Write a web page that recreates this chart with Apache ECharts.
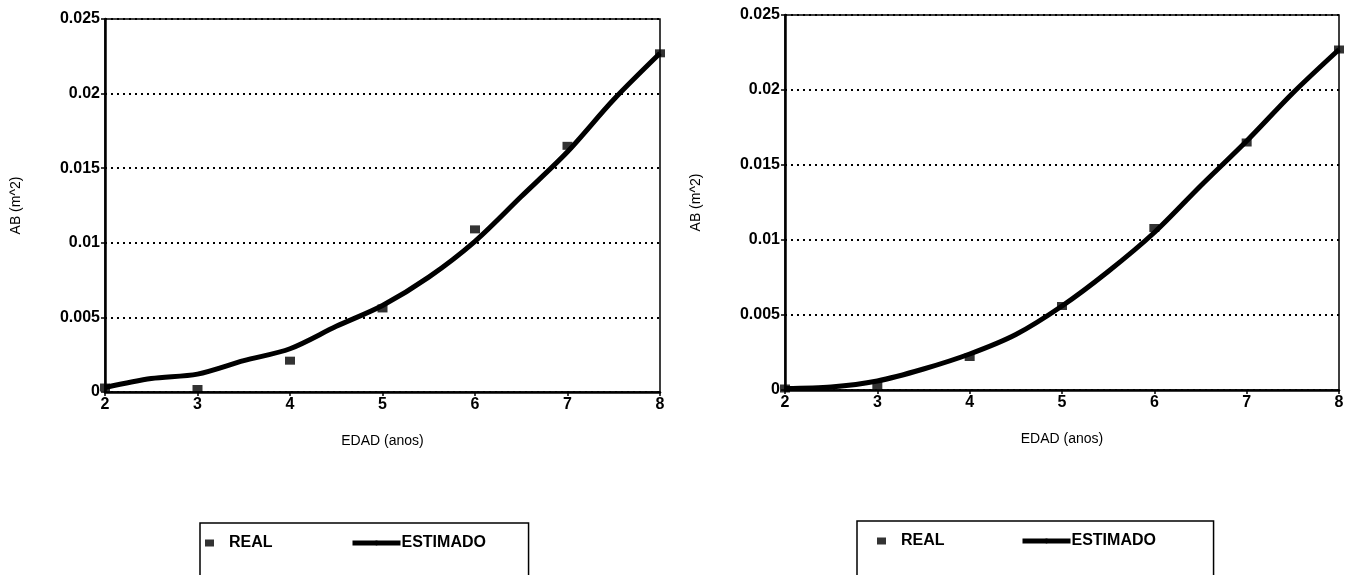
<!DOCTYPE html>
<html><head><meta charset="utf-8">
<script src="https://cdn.jsdelivr.net/npm/echarts@6/dist/echarts.min.js"></script>
<style>html,body{margin:0;padding:0;background:#fff}#c{width:1350px;height:575px}</style>
</head><body><div id="c"></div>
<script>
// ---- data ----
const ageReal = [2, 3, 4, 5, 6, 7, 8];
const realLeft = [0.0003, 0.0002, 0.0021, 0.0056, 0.0109, 0.0165, 0.0227];
const realRight = [0.0001, 0.0003, 0.0022, 0.0056, 0.0108, 0.0165, 0.0227];
const ageEst = [2, 2.5, 3, 3.5, 4, 4.5, 5, 5.5, 6, 6.5, 7, 7.5, 8];
const estLeft = [0.0003, 0.0009, 0.0012, 0.0021, 0.0029, 0.0044, 0.0058, 0.0077, 0.0101, 0.0131, 0.0161, 0.0196, 0.0227];
const estRight = [0.0001, 0.0002, 0.0006, 0.0014, 0.0024, 0.0037, 0.0056, 0.0079, 0.0105, 0.0136, 0.0166, 0.0198, 0.0227];
const yTicks = [0, 0.005, 0.01, 0.015, 0.02, 0.025];
const xTitle = 'EDAD (anos)';
const yTitle = 'AB (m^2)';
const seriesNames = ['REAL', 'ESTIMADO'];

const pair = (xs, ys) => xs.map((x, i) => [x, ys[i]]);
const FONT = 'Liberation Sans, Arial, sans-serif';

function xAx(gi) {
  return {
    type: 'value', gridIndex: gi, min: 2, max: 8, interval: 1,
    name: xTitle, nameLocation: 'middle', nameGap: 42,
    nameTextStyle: {fontFamily: FONT, fontSize: 14, color: '#000'},
    axisLine: {lineStyle: {color: '#000', width: 2.5}},
    axisTick: {show: true, length: 4, lineStyle: {color: '#000', width: 1.5}},
    axisLabel: {fontFamily: FONT, fontSize: 16, fontWeight: 'bold', color: '#000', margin: 5},
    splitLine: {show: false}
  };
}
function yAx(gi) {
  return {
    type: 'value', gridIndex: gi, min: 0, max: 0.025, interval: 0.005,
    name: yTitle, nameLocation: 'middle', nameGap: 82,
    nameTextStyle: {fontFamily: FONT, fontSize: 14, color: '#000'},
    axisLine: {show: true, lineStyle: {color: '#000', width: 2.5}},
    axisTick: {show: true, length: 4, lineStyle: {color: '#000', width: 1.5}},
    axisLabel: {fontFamily: FONT, fontSize: 16, fontWeight: 'bold', color: '#000', margin: 5,
      formatter: v => { const t = yTicks.find(k => Math.abs(k - v) < 1e-9); return t === undefined ? '' : String(t); }},
    splitLine: {show: true, lineStyle: {color: '#000', width: 2, type: [2, 4]}}
  };
}
function legends(left, top, padL, boxR, lineLeft) {
  return [
    {data: [{name: 'REAL', icon: 'rect'}], left: left, top: top, orient: 'horizontal',
     itemWidth: 9, itemHeight: 7, itemGap: 5,
     padding: [12, boxR, 30, padL], borderColor: '#000', borderWidth: 1.5,
     textStyle: {fontFamily: FONT, fontSize: 16, fontWeight: 'bold', color: '#000', padding: [0, 0, 0, 10]},
     selectedMode: false},
    {data: [{name: 'ESTIMADO'}], left: lineLeft, top: top, orient: 'horizontal',
     itemWidth: 48, itemHeight: 6, padding: [12, 5, 5, 5],
     lineStyle: {width: 5, color: '#000'},
     textStyle: {fontFamily: FONT, fontSize: 16, fontWeight: 'bold', color: '#000', padding: [0, 0, 0, -4]},
     selectedMode: false}
  ];
}

const chart = echarts.init(document.getElementById('c'), null, {renderer: 'canvas'});
chart.setOption({
  animation: false,
  backgroundColor: '#fff',
  grid: [
    {left: 105, right: 690, top: 19, bottom: 183, show: true, borderColor: '#000', borderWidth: 1.5, backgroundColor: 'transparent'},
    {left: 785, right: 11, top: 15, bottom: 185, show: true, borderColor: '#000', borderWidth: 1.5, backgroundColor: 'transparent'}
  ],
  xAxis: [xAx(0), xAx(1)],
  yAxis: [yAx(0), yAx(1)],
  legend: [...legends(200, 523, 5, 256, 345), ...legends(857, 521, 20, 269, 1015)],
  series: [
    {name: seriesNames[1], type: 'line', xAxisIndex: 0, yAxisIndex: 0, data: pair(ageEst, estLeft),
     smooth: 0.3,
     showSymbol: false, symbol: 'none', lineStyle: {color: '#000', width: 5}, itemStyle: {color: '#000'}, z: 3},
    {name: seriesNames[0], type: 'scatter', xAxisIndex: 0, yAxisIndex: 0, data: pair(ageReal, realLeft),
     symbol: 'rect', symbolSize: [10, 8], itemStyle: {color: '#000'}, z: 4},
    {name: seriesNames[1], type: 'line', xAxisIndex: 1, yAxisIndex: 1, data: pair(ageEst, estRight),
     smooth: 0.3,
     showSymbol: false, symbol: 'none', lineStyle: {color: '#000', width: 5}, itemStyle: {color: '#000'}, z: 3},
    {name: seriesNames[0], type: 'scatter', xAxisIndex: 1, yAxisIndex: 1, data: pair(ageReal, realRight),
     symbol: 'rect', symbolSize: [10, 8], itemStyle: {color: '#000'}, z: 4}
  ]
});
</script></body></html>
